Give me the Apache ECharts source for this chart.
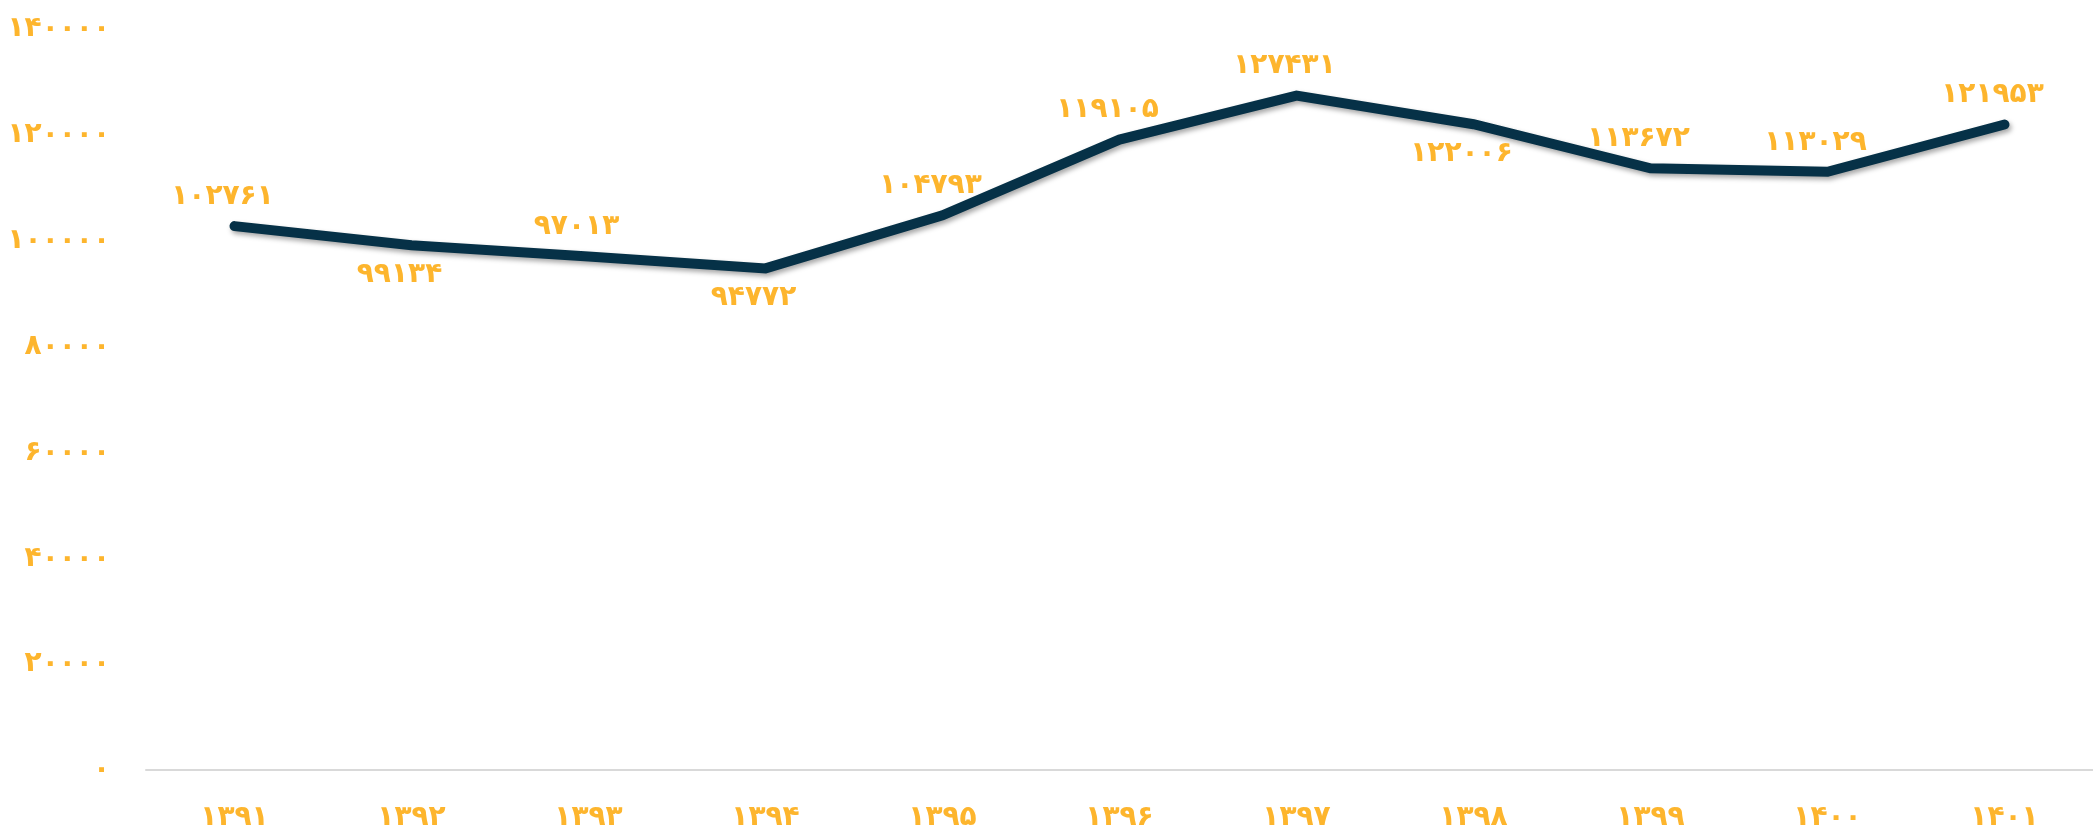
<!DOCTYPE html>
<html><head><meta charset="utf-8">
<script src="https://cdn.jsdelivr.net/npm/echarts@6/dist/echarts.min.js"></script>
<style>html,body{margin:0;padding:0;background:#fff}#c{width:2093px;height:832px}</style>
</head><body><div id="c"></div>
<script>
const categories = ['۱۳۹۱','۱۳۹۲','۱۳۹۳','۱۳۹۴','۱۳۹۵','۱۳۹۶','۱۳۹۷','۱۳۹۸','۱۳۹۹','۱۴۰۰','۱۴۰۱'];
const values = [102761, 99134, 97013, 94772, 104793, 119105, 127431, 122006, 113672, 113029, 121953];
const labelSides = ['top','bottom','top','bottom','top','top','top','bottom','top','top','top'];
const yTicks = [0, 20000, 40000, 60000, 80000, 100000, 120000, 140000];

const fa = n => String(n).replace(/\d/g, d => '۰۱۲۳۴۵۶۷۸۹'[d]);
const FONT = 'DejaVu Sans';
const ORANGE = '#FDB52D';

const chart = echarts.init(document.getElementById('c'));
chart.setOption({
  animation: false,
  grid: {left: 146, right: -9, top: 29, bottom: 60, containLabel: false},
  xAxis: {
    type: 'category', data: categories, boundaryGap: true,
    axisLine: {lineStyle: {color: '#d9d9d9', width: 2}},
    axisTick: {show: false},
    axisLabel: {color: ORANGE, fontFamily: FONT, fontWeight: 'bold', fontSize: 28, margin: 34}
  },
  yAxis: {
    type: 'value', min: yTicks[0], max: yTicks[yTicks.length-1], interval: 20000,
    splitLine: {show: false}, axisLine: {show: false}, axisTick: {show: false},
    axisLabel: {color: ORANGE, fontFamily: FONT, fontWeight: 'bold', fontSize: 28, margin: 36,
      formatter: v => fa(v)}
  },
  series: [{
    type: 'line',
    data: values.map((v, i) => ({value: v, label: {position: labelSides[i]}})),
    symbol: 'circle', symbolSize: 1, showSymbol: true,
    itemStyle: {color: 'rgba(0,0,0,0)'},
    lineStyle: {color: '#063147', width: 10, cap: 'round', join: 'miter',
      shadowColor: 'rgba(0,0,0,0.35)', shadowBlur: 5, shadowOffsetX: 2, shadowOffsetY: 3},
    label: {show: true, color: ORANGE, fontFamily: FONT, fontWeight: 'bold', fontSize: 28,
      distance: 15, offset: [-12, 0], formatter: p => fa(p.value)}
  }]
});
</script></body></html>
